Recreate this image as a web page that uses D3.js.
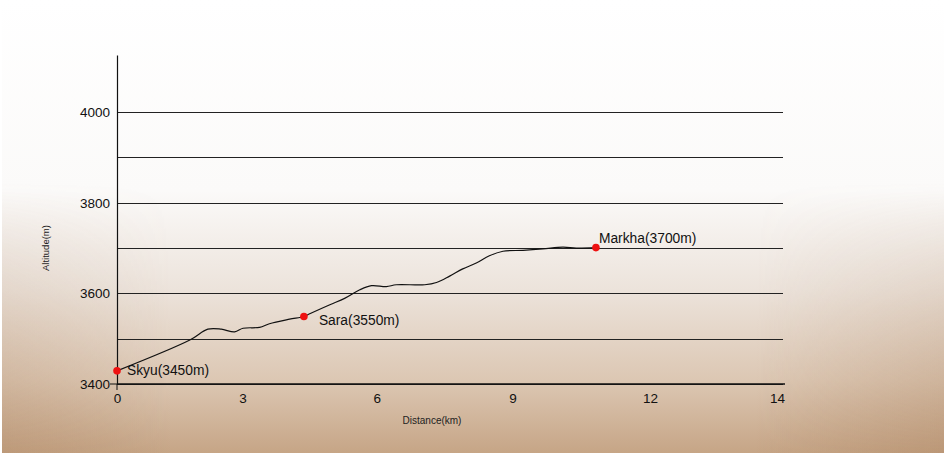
<!DOCTYPE html>
<html>
<head>
<meta charset="utf-8">
<script src="https://cdn.jsdelivr.net/npm/d3@7"></script>
<style>
  html, body { margin: 0; padding: 0; background: #fff; }
  svg { display: block; font-family: "Liberation Sans", Arial, sans-serif; }
</style>
</head>
<body>
<div id="chart"></div>
<script>
const w = 944,
      h = 456;
const margin = {top: 55, right: 159, bottom: 72, left: 117};
const innerW = w - margin.left - margin.right,
      innerH = h - margin.top - margin.bottom;

// trail profile, distance in km / altitude in m
const distance = [0, 1.74, 2.17, 2.49, 2.81, 3.01, 3.38, 3.60, 4.05, 4.37, 4.50, 4.95, 5.28, 5.62, 5.88, 6.21, 6.43, 7.06, 7.32, 7.61, 7.90, 8.20, 8.49, 8.79, 9.23, 9.66, 10.10, 10.39, 10.82];
const altitude = [3429, 3497, 3521, 3521, 3515, 3523, 3525, 3533, 3543, 3549, 3555, 3575, 3589, 3608, 3617, 3615, 3619, 3619, 3624, 3638, 3654, 3667, 3683, 3693, 3695, 3698, 3702, 3700, 3701];

// camps
const camps = ['Skyu(3450m)', 'Sara(3550m)', 'Markha(3700m)'];
const campDistance = [0, 4.37, 10.82];
const campAltitude = [3429, 3549, 3701];

const xTicks = [0, 3, 6, 9, 12, 14];
const yGrid = [3400, 3500, 3600, 3700, 3800, 3900, 4000];
const yLabels = [3400, 3600, 3800, 4000];

const svg = d3.select('#chart').append('svg')
              .attr('width', w)
              .attr('height', h);

// paper-like background
const defs = svg.append('defs');
const bg = defs.append('linearGradient').attr('id', 'bg').attr('x1', '0%').attr('y1', '0%').attr('x2', '0%').attr('y2', '100%');
bg.append('stop').attr('offset', '0%').attr('stop-color', '#ffffff');
bg.append('stop').attr('offset', '42%').attr('stop-color', '#fbfaf9');
bg.append('stop').attr('offset', '64%').attr('stop-color', '#ece3db');
bg.append('stop').attr('offset', '84%').attr('stop-color', '#dcc7b3');
bg.append('stop').attr('offset', '100%').attr('stop-color', '#c6a586');

// darker edges, fading in towards the bottom
const side = defs.append('linearGradient').attr('id', 'side').attr('x1', '0%').attr('y1', '0%').attr('x2', '100%').attr('y2', '0%');
side.append('stop').attr('offset', '0%').attr('stop-color', '#a87e5a').attr('stop-opacity', 0.3);
side.append('stop').attr('offset', '18%').attr('stop-color', '#a87e5a').attr('stop-opacity', 0);
side.append('stop').attr('offset', '80%').attr('stop-color', '#a87e5a').attr('stop-opacity', 0);
side.append('stop').attr('offset', '100%').attr('stop-color', '#a87e5a').attr('stop-opacity', 0.35);
const fade = defs.append('linearGradient').attr('id', 'fade').attr('x1', '0%').attr('y1', '0%').attr('x2', '0%').attr('y2', '100%');
fade.append('stop').attr('offset', '40%').attr('stop-color', '#fff').attr('stop-opacity', 0);
fade.append('stop').attr('offset', '100%').attr('stop-color', '#fff').attr('stop-opacity', 1);
defs.append('mask').attr('id', 'fadeMask')
    .append('rect').attr('x', 0).attr('y', 0).attr('width', w).attr('height', h).attr('fill', 'url(#fade)');

svg.append('rect').attr('x', 2).attr('y', 0).attr('width', w - 2).attr('height', h - 3).attr('fill', 'url(#bg)');
svg.append('rect').attr('x', 2).attr('y', 0).attr('width', w - 2).attr('height', h - 3)
   .attr('fill', 'url(#side)').attr('mask', 'url(#fadeMask)');

const g = svg.append('g').attr('transform', `translate(${margin.left},${margin.top})`);

// tick labels are not evenly spaced on the original
const x = d3.scaleLinear()
            .domain(xTicks)
            .range([0, 0.188, 0.389, 0.592, 0.798, 0.988].map(f => f * innerW));
const y = d3.scaleLinear()
            .domain([3400, 4126])
            .range([innerH, 0]);

// grid lines
g.selectAll('line.grid')
 .data(yGrid)
 .enter()
 .append('line')
 .attr('class', 'grid')
 .attr('x1', 0)
 .attr('x2', innerW - 2)
 .attr('y1', d => Math.round(y(d)) + 0.5)
 .attr('y2', d => Math.round(y(d)) + 0.5)
 .attr('stroke', '#222')
 .attr('stroke-width', 1.2);

// y axis
const yAxis = d3.axisLeft(y).tickValues(yLabels).tickSize(0).tickPadding(7).tickFormat(d3.format('d'));
const yg = g.append('g').call(yAxis);
yg.select('.domain').attr('stroke', '#111').attr('stroke-width', 1.2);
yg.selectAll('text').attr('font-size', 13.5).attr('fill', '#111');
g.append('line').attr('x1', -7).attr('x2', 0).attr('y1', y(3400)).attr('y2', y(3400)).attr('stroke', '#111');

// x axis
const xAxis = d3.axisBottom(x).tickValues(xTicks).tickSize(0).tickPadding(9).tickFormat(d3.format('d'));
const xg = g.append('g').attr('transform', `translate(0,${innerH})`).call(xAxis);
xg.select('.domain').attr('d', `M0,0H${innerW}`).attr('stroke', '#111').attr('stroke-width', 1.3);
xg.selectAll('text').attr('font-size', 13.5).attr('fill', '#111');
g.append('line').attr('x1', 0).attr('x2', 0).attr('y1', innerH).attr('y2', innerH + 6).attr('stroke', '#111');

// axis titles
svg.append('text')
   .attr('transform', `translate(49,${margin.top + y(3700)}) rotate(-90)`)
   .attr('text-anchor', 'middle')
   .attr('font-size', 9.5)
   .attr('fill', '#222')
   .text('Altitude(m)');
svg.append('text')
   .attr('x', 432)
   .attr('y', 424)
   .attr('text-anchor', 'middle')
   .attr('font-size', 10)
   .attr('fill', '#222')
   .text('Distance(km)');

// profile
const line = d3.line()
               .x(d => x(d[0]))
               .y(d => y(d[1]))
               .curve(d3.curveCatmullRom);
g.append('path')
 .datum(distance.map((d, i) => [d, altitude[i]]))
 .attr('d', line)
 .attr('fill', 'none')
 .attr('stroke', '#111')
 .attr('stroke-width', 1.2);

// camps
const campData = camps.map((c, i) => ({name: c, d: campDistance[i], a: campAltitude[i]}));
g.selectAll('circle.camp')
 .data(campData)
 .enter()
 .append('circle')
 .attr('class', 'camp')
 .attr('cx', d => x(d.d))
 .attr('cy', d => y(d.a))
 .attr('r', 3.8)
 .attr('fill', '#ee1111');

const labelOffset = [[10, 4], [15, 9], [3, -5]];
g.selectAll('text.camp')
 .data(campData)
 .enter()
 .append('text')
 .attr('class', 'camp')
 .attr('x', (d, i) => x(d.d) + labelOffset[i][0])
 .attr('y', (d, i) => y(d.a) + labelOffset[i][1])
 .attr('font-size', 13.8)
 .attr('fill', '#111')
 .text(d => d.name);
</script>
</body>
</html>
